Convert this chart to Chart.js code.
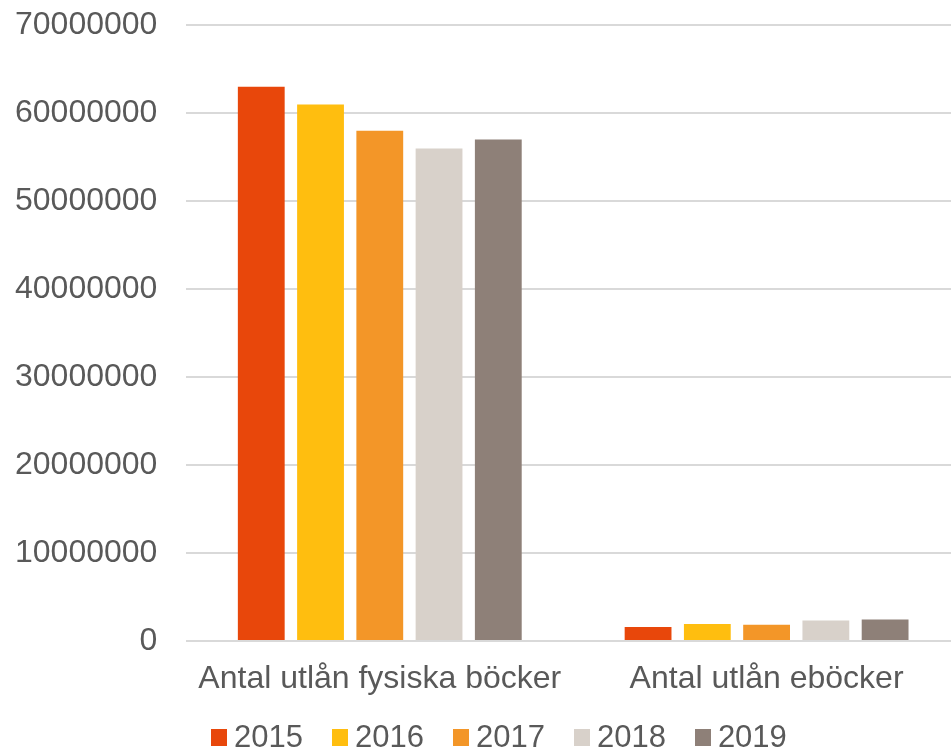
<!DOCTYPE html>
<html>
<head>
<meta charset="utf-8">
<script src="https://cdn.jsdelivr.net/npm/chart.js@4/dist/chart.umd.min.js"></script>
<style>
  html, body { margin: 0; padding: 0; background: #fff; overflow: hidden; }
  #wrap { position: relative; width: 960px; height: 750px; overflow: hidden; }
  #chart { position: absolute; left: 0; top: -23px; }
  #legend {
    position: absolute; left: 211px; top: 722px; height: 30px;
    display: flex; align-items: center;
    font-family: "Liberation Sans", Arial, sans-serif; font-size: 31px; color: #595959;
  }
  #legend .item { display: flex; align-items: center; margin-right: 29px; }
  #legend .box { width: 16px; height: 17px; margin-right: 7px; }
</style>
</head>
<body>
<div id="wrap">
  <canvas id="chart" width="960" height="773"></canvas>
  <div id="legend"></div>
</div>
<script>
  /* Library loans per year: physical books vs e-books. */
  var categories = ["Antal utlån fysiska böcker", "Antal utlån eböcker"];
  var years = ["2015", "2016", "2017", "2018", "2019"];
  var v2015 = [63000000, 1600000];
  var v2016 = [61000000, 1950000];
  var v2017 = [58000000, 1850000];
  var v2018 = [56000000, 2350000];
  var v2019 = [57000000, 2450000];
  var yTicks = [0, 10000000, 20000000, 30000000, 40000000, 50000000, 60000000, 70000000];

  var series = [v2015, v2016, v2017, v2018, v2019];
  var colors = ["#E8470B", "#FFBE0F", "#F39628", "#D8D1CA", "#8E8078"];
  var TEXT = "#595959";
  var FONT = "'Liberation Sans', Arial, sans-serif";

  var datasets = years.map(function (y, i) {
    return {
      label: y, data: series[i], backgroundColor: colors[i], borderWidth: 0,
      categoryPercentage: 0.766, barPercentage: 0.79
    };
  });

  var chart = new Chart(document.getElementById("chart"), {
    type: "bar",
    data: { labels: categories, datasets: datasets },
    options: {
      responsive: false, animation: false, devicePixelRatio: 1,
      layout: { padding: { top: 1, left: -14, right: 0, bottom: 41.5 } },
      plugins: { legend: { display: false }, tooltip: { enabled: false } },
      scales: {
        x: {
          grid: { display: false }, border: { display: false },
          ticks: { color: TEXT, font: { family: FONT, size: 32 }, padding: 10.5, maxRotation: 0 }
        },
        y: {
          min: 0, max: yTicks[yTicks.length - 1],
          afterBuildTicks: function (s) { s.ticks = yTicks.map(function (v) { return { value: v }; }); },
          grid: { color: "#D9D9D9", lineWidth: 2, drawTicks: false },
          border: { display: false },
          ticks: {
            color: TEXT, font: { family: FONT, size: 32 }, padding: 29,
            callback: function (v) { return String(v); }
          }
        }
      }
    }
  });

  var legend = document.getElementById("legend");
  chart.data.datasets.forEach(function (ds) {
    var item = document.createElement("div");
    item.className = "item";
    item.innerHTML = '<span class="box" style="background:' + ds.backgroundColor + '"></span><span>' + ds.label + '</span>';
    legend.appendChild(item);
  });
</script>
</body>
</html>
